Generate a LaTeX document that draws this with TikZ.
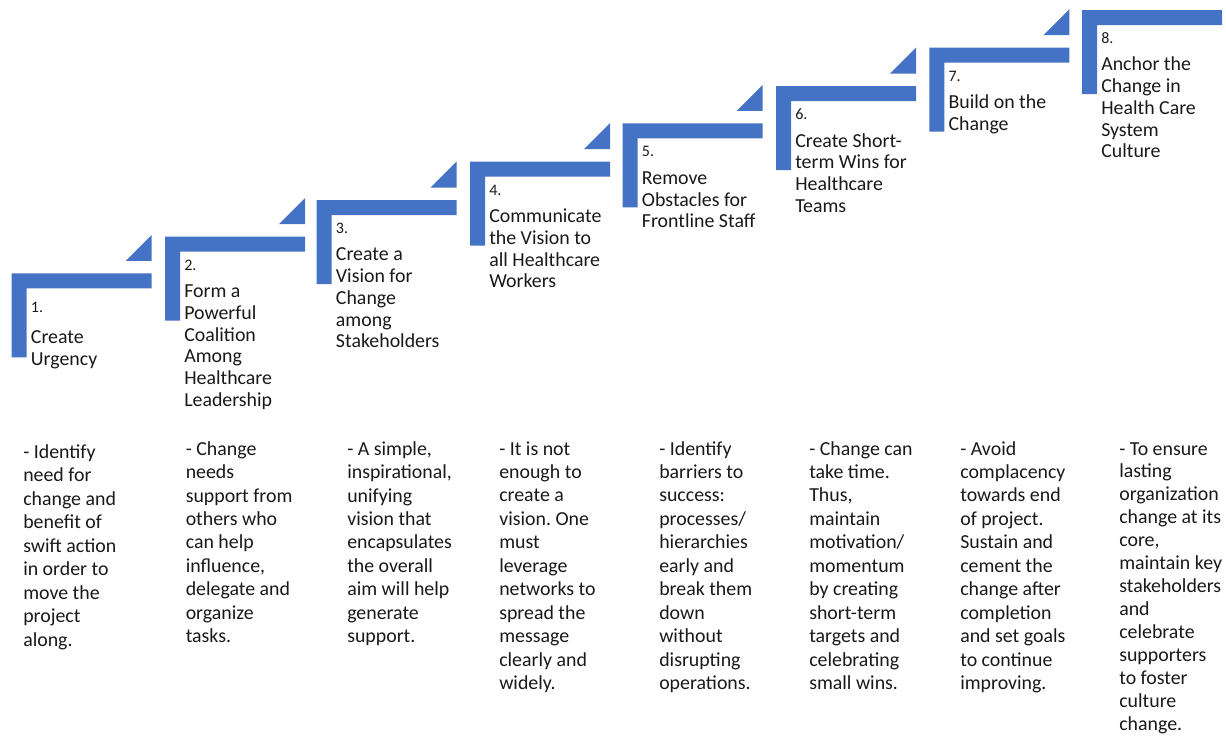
\documentclass[tikz,border=0pt]{standalone}
\usepackage{fontspec}
\setmainfont{Carlito}
\frenchspacing
\definecolor{stepblue}{HTML}{4472C4}

\begin{document}
\begin{tikzpicture}[x=0.75pt,y=-0.75pt]
 \useasboundingbox (0,0) rectangle (1226,739);
 \begin{scope}[every path/.style={fill=stepblue}]
  \fill (11.7,273.3) rectangle ++(140,15) (11.7,273.3) rectangle ++(15,84)
        (125.7,260.8) -- ++(26,0) -- ++(0,-26) -- cycle;
  \fill (165,236.7) rectangle ++(140,15) (165,236.7) rectangle ++(15,84)
        (279,224.2) -- ++(26,0) -- ++(0,-26) -- cycle;
  \fill (316.7,200) rectangle ++(140,15) (316.7,200) rectangle ++(15,84)
        (430.7,187.5) -- ++(26,0) -- ++(0,-26) -- cycle;
  \fill (470,161.7) rectangle ++(140,15) (470,161.7) rectangle ++(15,84)
        (584,149.2) -- ++(26,0) -- ++(0,-26) -- cycle;
  \fill (622.7,123.3) rectangle ++(140,15) (622.7,123.3) rectangle ++(15,84)
        (736.7,110.8) -- ++(26,0) -- ++(0,-26) -- cycle;
  \fill (776,86) rectangle ++(140,15) (776,86) rectangle ++(15,84)
        (890,73.5) -- ++(26,0) -- ++(0,-26) -- cycle;
  \fill (929.3,47.7) rectangle ++(140,15) (929.3,47.7) rectangle ++(15,84)
        (1043.3,35.2) -- ++(26,0) -- ++(0,-26) -- cycle;
  \fill (1082,10) rectangle ++(140,15) (1082,10) rectangle ++(15,84);
 \end{scope}
 % base anchor = baseline of the last line
 \begin{scope}[every node/.style={anchor=base west, inner sep=0pt, text=black!90, align=left},
               stepnum/.style={font=\fontsize{12}{13}\selectfont},
               steptitle/.style={font=\fontsize{14.9}{16.3}\selectfont},
               stepdesc/.style={font=\fontsize{14.9}{17.6}\selectfont}]
  \node[stepnum] (n1) at (30.7,312) {1.};
  \node[stepnum] (n2) at (184,270) {2.};
  \node[stepnum] (n3) at (335.7,233.3) {3.};
  \node[stepnum] (n4) at (489,195) {4.};
  \node[stepnum] (n5) at (641.7,156.6) {5.};
  \node[stepnum] (n6) at (795,119.3) {6.};
  \node[stepnum] (n7) at (948.3,81) {7.};
  \node[stepnum] (n8) at (1101,43.3) {8.};
  \node[steptitle] (t1) at (30.7,365) {Create\\Urgency};
  \node[steptitle] (t2) at (184,406.4) {Form a\\Powerful\\Coalition\\Among\\Healthcare\\Leadership};
  \node[steptitle] (t3) at (335.7,347.9) {Create a\\Vision for\\Change\\among\\Stakeholders};
  \node[steptitle] (t4) at (489,287.9) {Communicate\\the Vision to\\all Healthcare\\Workers};
  \node[steptitle] (t5) at (641.7,227.8) {Remove\\Obstacles for\\Frontline Staff};
  \node[steptitle] (t6) at (795,212.2) {Create Short-\\term Wins for\\Healthcare\\Teams};
  \node[steptitle] (t7) at (948.3,130.4) {Build on the\\Change};
  \node[steptitle] (t8) at (1101,157.9) {Anchor the\\Change in\\Health Care\\System\\Culture};
  \node[stepdesc] (d1) at (23,646.1) {- Identify\\need for\\change and\\benefit of\\swift action\\in order to\\move the\\project\\along.};
  \node[stepdesc] (d2) at (185.5,642.8) {- Change\\needs\\support from\\others who\\can help\\influence,\\delegate and\\organize\\tasks.};
  \node[stepdesc] (d3) at (347,642.8) {- A simple,\\inspirational,\\unifying\\vision that\\encapsulates\\the overall\\aim will help\\generate\\support.};
  \node[stepdesc] (d4) at (499,689.7) {- It is not\\enough to\\create a\\vision. One\\must\\leverage\\networks to\\spread the\\message\\clearly and\\widely.};
  \node[stepdesc] (d5) at (659,689.7) {- Identify\\barriers to\\success:\\processes/\\hierarchies\\early and\\break them\\down\\without\\disrupting\\operations.};
  \node[stepdesc] (d6) at (809,689.7) {- Change can\\take time.\\Thus,\\maintain\\motivation/\\momentum\\by creating\\short-term\\targets and\\celebrating\\small wins.};
  \node[stepdesc] (d7) at (960,689.7) {- Avoid\\complacency\\towards end\\of project.\\Sustain and\\cement the\\change after\\completion\\and set goals\\to continue\\improving.};
  \node[stepdesc, font=\fontsize{14.9}{17.2}\selectfont] (d8) at (1119,730.2) {- To ensure\\lasting\\organization\\change at its\\core,\\maintain key\\stakeholders\\and\\celebrate\\supporters\\to foster\\culture\\change.};
 \end{scope}
\end{tikzpicture}
\end{document}
